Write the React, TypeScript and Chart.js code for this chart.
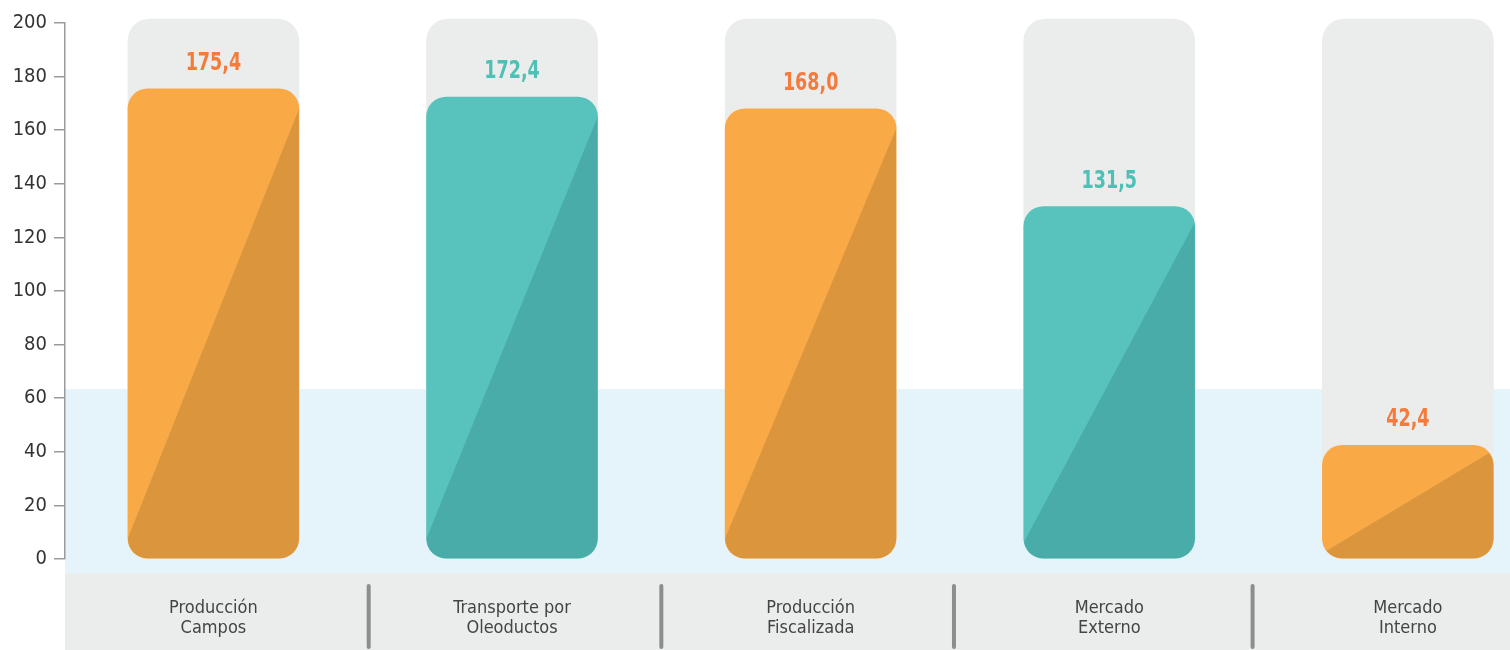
import { useEffect, useRef } from "react";
import { Chart, registerables } from "chart.js";

Chart.register(...registerables);

// ---- data ----
const categories: string[][] = [
  ["Producción", "Campos"],
  ["Transporte por", "Oleoductos"],
  ["Producción", "Fiscalizada"],
  ["Mercado", "Externo"],
  ["Mercado", "Interno"],
];
const values = [175.4, 172.4, 168.0, 131.5, 42.4];
const valueLabels = ["175,4", "172,4", "168,0", "131,5", "42,4"];
const trackValues = [201.5, 201.5, 201.5, 201.5, 201.5];
const barKinds = ["orange", "teal", "orange", "teal", "orange"];
const yTicks = [0, 20, 40, 60, 80, 100, 120, 140, 160, 180, 200];
const bandTopValue = 63.4;
const separatorAt = [0.52, 1.5, 2.48, 3.48];

// ---- styles ----
const FONT = "'Liberation Sans Narrow', 'DejaVu Sans Condensed', 'Roboto', sans-serif";
const palette: Record<string, { light: string; dark: string; text: string }> = {
  orange: { light: "#F9AA47", dark: "#DB963D", text: "#F47B3B" },
  teal: { light: "#57C3BC", dark: "#4AACA8", text: "#4EC0B6" },
};

const decorPlugin = {
  id: "decor",
  beforeDraw(chart: any) {
    const { ctx, chartArea, scales } = chart;
    const y = scales.y;
    const x = scales.x;
    const W = chart.width;
    const H = chart.height;
    const zeroY = y.getPixelForValue(0);
    const bandTop = y.getPixelForValue(bandTopValue);
    const bandBottom = zeroY + 14;
    ctx.save();
    ctx.fillStyle = "#E5F4FA";
    ctx.fillRect(chartArea.left, bandTop, W - chartArea.left, bandBottom - bandTop);
    ctx.fillStyle = "#EBECEC";
    ctx.fillRect(chartArea.left, bandBottom, W - chartArea.left, H - bandBottom);
    ctx.strokeStyle = "#8C8D8F";
    ctx.lineWidth = 4;
    ctx.lineCap = "round";
    separatorAt.forEach((v) => {
      const px = x.getPixelForValue(v);
      ctx.beginPath();
      ctx.moveTo(px, zeroY + 27);
      ctx.lineTo(px, H - 3);
      ctx.stroke();
    });
    ctx.restore();
  },
  afterDatasetDraw(chart: any, args: any) {
    if (args.index !== 0) return;
    const { ctx } = chart;
    const meta = args.meta;
    meta.data.forEach((el: any, i: number) => {
      const props = el.getProps(["x", "y", "base", "width"], true);
      const w = props.width;
      const left = props.x - w / 2;
      const right = props.x + w / 2;
      const top = Math.min(props.y, props.base);
      const bottom = Math.max(props.y, props.base);
      const h = bottom - top;
      const r = 20;
      const k = Math.min(20, h * 0.045);
      const col = palette[barKinds[i]];
      ctx.save();
      ctx.beginPath();
      (ctx as any).roundRect(left, top, w, h, r);
      ctx.clip();
      ctx.fillStyle = col.dark;
      ctx.beginPath();
      ctx.moveTo(left, bottom - k);
      ctx.lineTo(right, top + k);
      ctx.lineTo(right + 2, bottom + 2);
      ctx.lineTo(left - 2, bottom + 2);
      ctx.closePath();
      ctx.fill();
      ctx.restore();

      ctx.save();
      ctx.fillStyle = col.text;
      ctx.font = `bold 25px ${FONT}`;
      ctx.textAlign = "center";
      ctx.textBaseline = "alphabetic";
      ctx.translate(props.x, top - 19);
      ctx.scale(0.78, 1);
      ctx.fillText(valueLabels[i], 0, 0);
      ctx.restore();
    });
  },
};

export default function App() {
  const ref = useRef<HTMLCanvasElement | null>(null);

  useEffect(() => {
    if (!ref.current) return;
    const chart = new Chart(ref.current, {
      type: "bar",
      data: {
        datasets: [
          {
            data: values.map((v, i) => ({ x: i, y: v })),
            backgroundColor: barKinds.map((k) => palette[k].light),
            borderRadius: 20,
            borderSkipped: false,
            borderWidth: 0,
            barThickness: 171,
            grouped: false,
            order: 0,
          } as any,
          {
            data: trackValues.map((v, i) => ({ x: i, y: v })),
            backgroundColor: "#EBECEC",
            borderRadius: 22,
            borderSkipped: false,
            borderWidth: 0,
            barThickness: 171,
            grouped: false,
            clip: false,
            order: 1,
          } as any,
        ],
      },
      options: {
        animation: false,
        responsive: false,
        layout: { padding: { top: 23, left: 0, right: 0, bottom: 0 } },
        plugins: {
          legend: { display: false },
          tooltip: { enabled: false },
        },
        scales: {
          x: {
            type: "linear",
            min: -0.497,
            max: 4.342,
            offset: false,
            afterBuildTicks: (s: any) => {
              s.ticks = categories.map((_, i) => ({ value: i }));
            },
            afterFit: (s: any) => {
              s.height = 91;
            },
            ticks: {
              autoSkip: false,
              maxRotation: 0,
              padding: 39,
              color: "#444444",
              font: { family: FONT, size: 18, lineHeight: 1.12 },
              callback: (v: any) => categories[Math.round(Number(v))] as any,
            },
            grid: { display: false, drawTicks: false },
            border: { display: false },
          },
          y: {
            min: 0,
            max: 200,
            afterBuildTicks: (s: any) => {
              s.ticks = yTicks.map((v) => ({ value: v }));
            },
            afterFit: (s: any) => {
              s.width = 65;
            },
            ticks: {
              padding: 7,
              color: "#333333",
              font: { family: FONT, size: 20 },
            },
            grid: {
              drawOnChartArea: false,
              tickLength: 11,
              color: "#9A9A9A",
              lineWidth: 1.5,
            },
            border: { color: "#9A9A9A", width: 1.5 },
          },
        },
      } as any,
      plugins: [decorPlugin],
    });
    return () => chart.destroy();
  }, []);

  return (
    <div style={{ position: "absolute", left: 0, top: 0, width: 1510, height: 650, background: "#fff" }}>
      <canvas ref={ref} width={1510} height={650} style={{ display: "block" }} />
    </div>
  );
}
